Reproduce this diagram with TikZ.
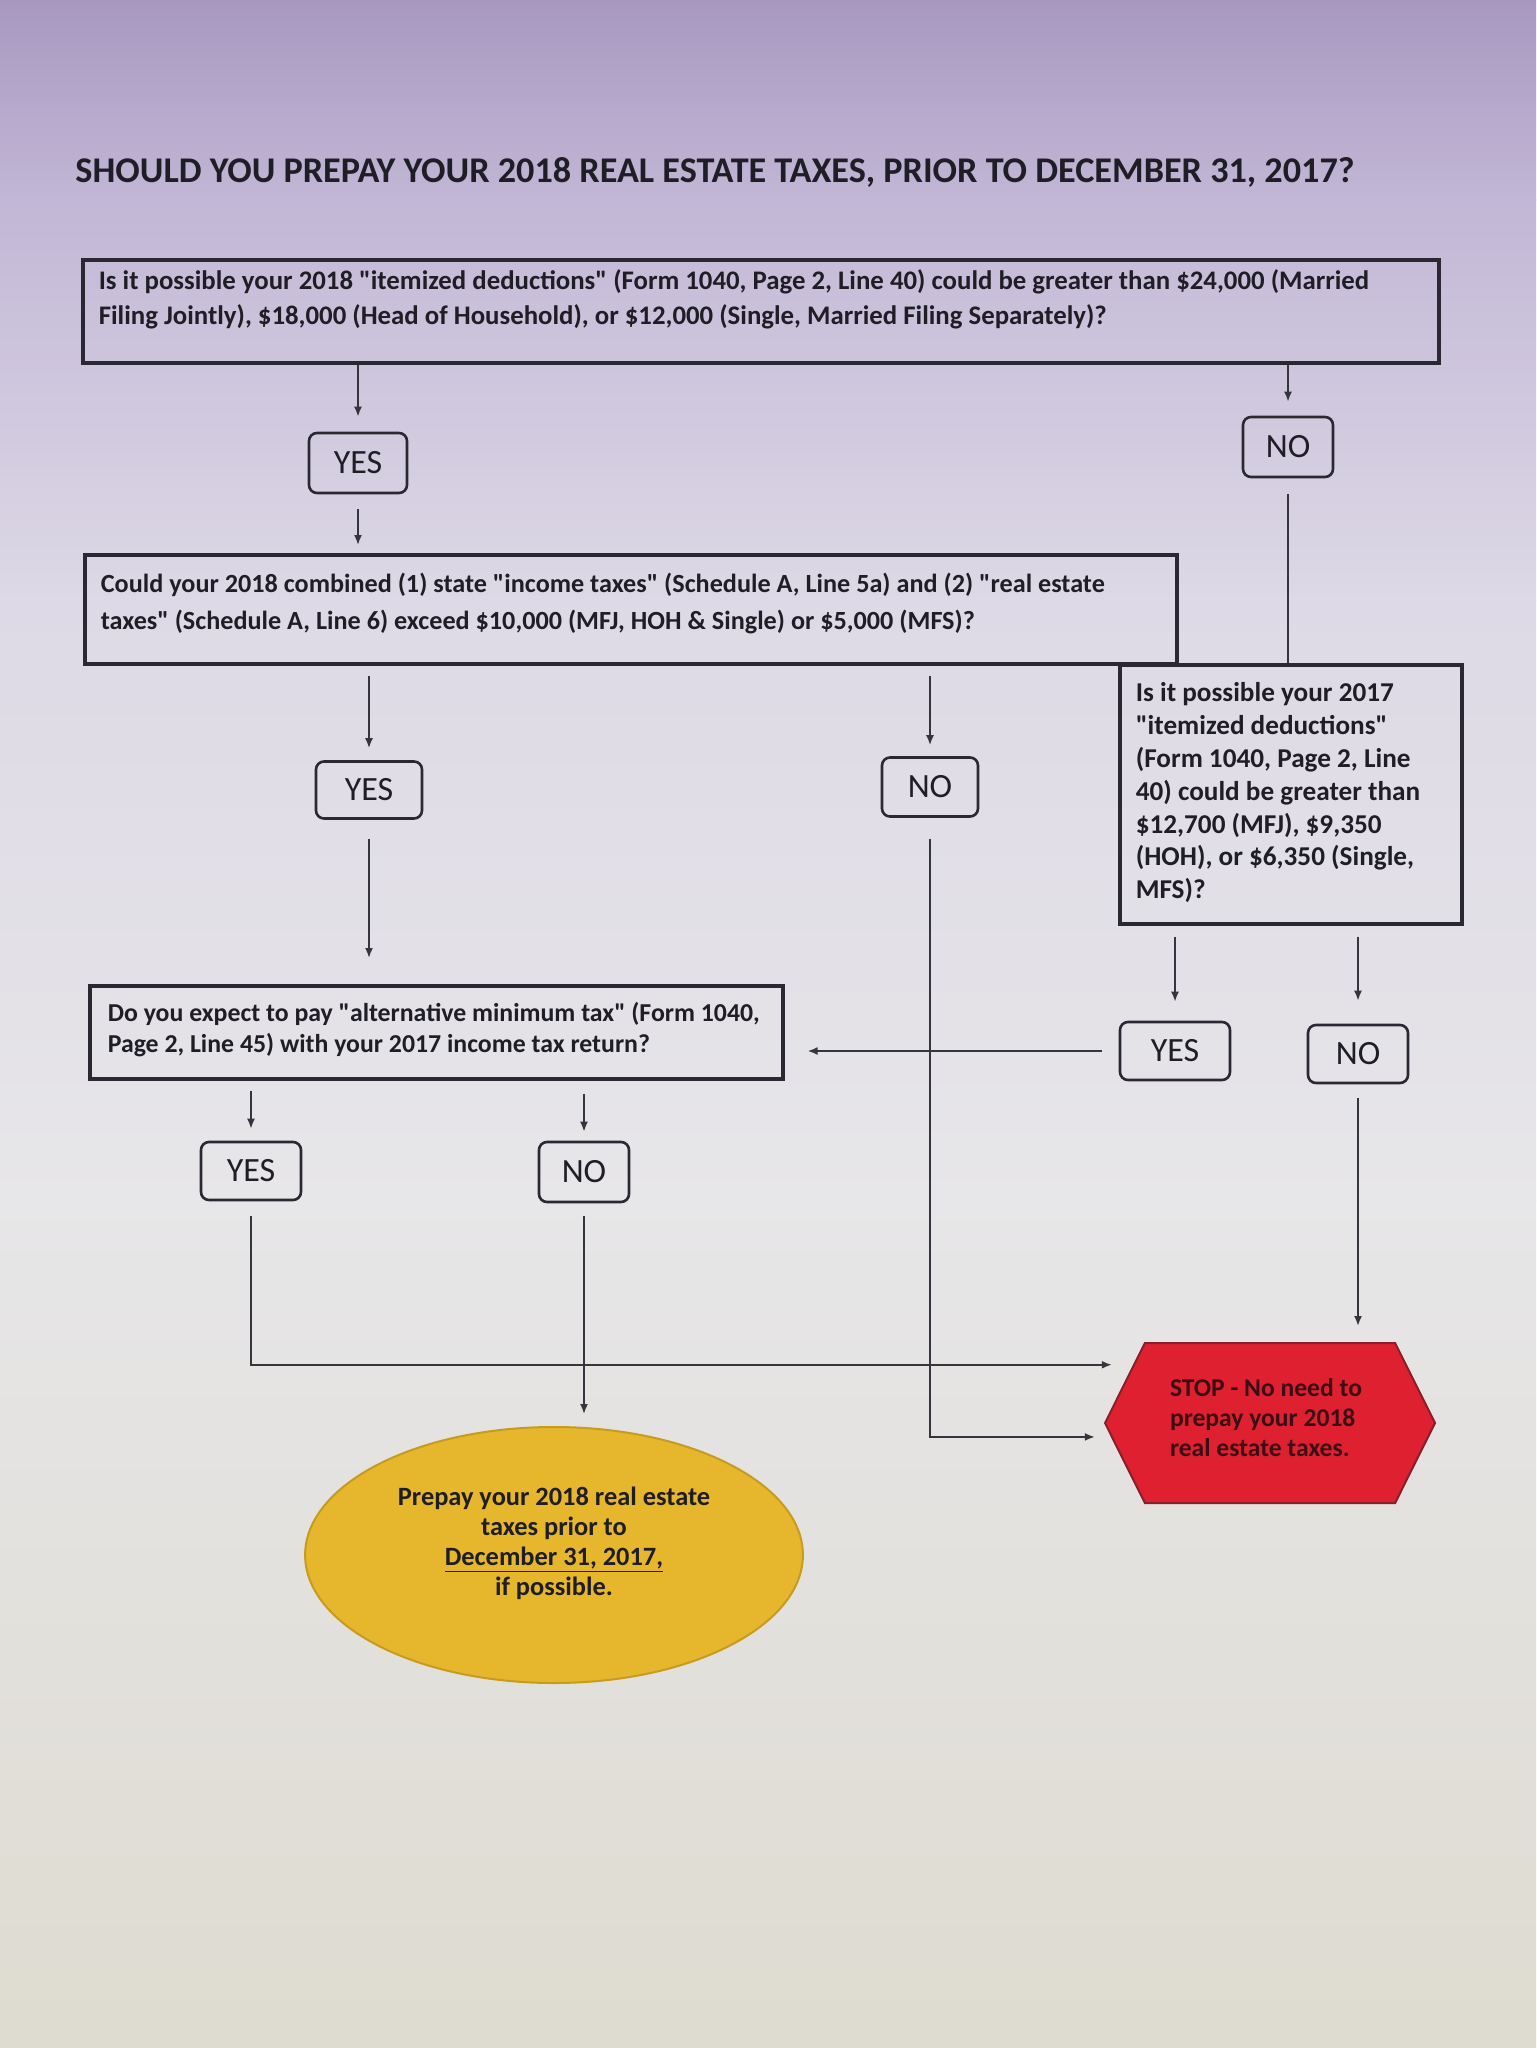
\documentclass[tikz,border=0pt]{standalone}
\usepackage{fontspec}
\setmainfont{Carlito}[Ligatures=TeXOff]
\usetikzlibrary{arrows.meta,shapes.symbols,shapes.geometric}
\definecolor{bg0}{HTML}{A898C0}
\definecolor{bg1}{HTML}{C2B7D6}
\definecolor{bg2}{HTML}{DDD9E6}
\definecolor{bg3}{HTML}{E7E6E8}
\definecolor{bg4}{HTML}{DEDBD0}
\definecolor{ink}{HTML}{1F1D26}
\definecolor{edgec}{HTML}{2A2832}
\definecolor{wirec}{HTML}{35353D}
\definecolor{gold}{HTML}{E6B62C}
\definecolor{goldedge}{HTML}{C79B1E}
\definecolor{stopred}{HTML}{DE2030}
\definecolor{stopedge}{HTML}{8A1E2A}
\definecolor{stopink}{HTML}{3A0E14}
\newcommand\qtext[4]{\parbox[c][#1][t]{#2}{\rule{0pt}{#3}#4}}
\begin{document}
\begin{tikzpicture}[x=0.5pt,y=-0.5pt,
  qbox/.style={draw=edgec, line width=1.8pt, anchor=north west, inner xsep=8pt, inner ysep=0pt, text=ink},
  ynbox/.style={draw=edgec, line width=1.3pt, rounded corners=4pt, inner sep=0pt, text=ink, font=\fontsize{17pt}{20pt}\selectfont},
  arr/.style={draw=wirec, line width=0.9pt, -{Latex[length=5pt,width=4pt]}},
  plainwire/.style={draw=wirec, line width=0.9pt}]
\useasboundingbox (0,0) rectangle (1536,2048);
\shade[top color=bg0, bottom color=bg1] (0,0) rectangle (1536,201);
\shade[top color=bg1, bottom color=bg2] (0,200) rectangle (1536,601);
\shade[top color=bg2, bottom color=bg3] (0,600) rectangle (1536,1201);
\shade[top color=bg3, bottom color=bg4] (0,1200) rectangle (1536,2048);

\node[font=\fontsize{18.1pt}{21pt}\selectfont\bfseries, text=ink] (title) at (715,172)
  {SHOULD YOU PREPAY YOUR 2018 REAL ESTATE TAXES, PRIOR TO DECEMBER 31, 2017?};

\node[qbox, font=\fontsize{13.4pt}{17.5pt}\selectfont\bfseries] (q1) at (81,258)
  {\qtext{51.5pt}{662pt}{15pt}{\mbox{Is it possible your 2018 "itemized deductions" (Form 1040, Page 2, Line 40) could be greater than \$24,000 (Married}\\\mbox{Filing Jointly), \$18,000 (Head of Household), or \$12,000 (Single, Married Filing Separately)?}}};

\node[qbox, font=\fontsize{13.1pt}{18.5pt}\selectfont\bfseries] (q2) at (83,553)
  {\qtext{54.5pt}{530pt}{19pt}{\mbox{Could your 2018 combined (1) state "income taxes" (Schedule A, Line 5a) and (2) "real estate}\\\mbox{taxes" (Schedule A, Line 6) exceed \$10,000 (MFJ, HOH \& Single) or \$5,000 (MFS)?}}};

\node[qbox, font=\fontsize{13.6pt}{16.4pt}\selectfont\bfseries] (q3) at (1118,663)
  {\qtext{129.5pt}{155pt}{18.5pt}{\mbox{Is it possible your 2017}\\\mbox{"itemized deductions"}\\\mbox{(Form 1040, Page 2, Line}\\\mbox{40) could be greater than}\\\mbox{\$12,700 (MFJ), \$9,350}\\\mbox{(HOH), or \$6,350 (Single,}\\\mbox{MFS)?}}};

\node[qbox, inner xsep=9pt, font=\fontsize{12.9pt}{15.5pt}\selectfont\bfseries] (q4) at (88,984)
  {\qtext{46.5pt}{328.5pt}{18pt}{\mbox{Do you expect to pay "alternative minimum tax" (Form 1040,}\\\mbox{Page 2, Line 45) with your 2017 income tax return?}}};

\node[ynbox, minimum width=49pt, minimum height=30pt] (yes1) at (358,463) {YES};
\node[ynbox, minimum width=45pt, minimum height=30pt] (no1) at (1288,447) {NO};
\node[ynbox, minimum width=53pt, minimum height=28.5pt] (yes2) at (369,790) {YES};
\node[ynbox, minimum width=48pt, minimum height=29.5pt] (no2) at (930,787) {NO};
\node[ynbox, minimum width=55pt, minimum height=29pt] (yes3) at (1175,1051) {YES};
\node[ynbox, minimum width=50pt, minimum height=29pt] (no3) at (1358,1054) {NO};
\node[ynbox, minimum width=50pt, minimum height=29pt] (yes4) at (251,1171) {YES};
\node[ynbox, minimum width=45pt, minimum height=30pt] (no4) at (584,1172) {NO};

\node[signal, signal to=east and west, signal pointer angle=127, fill=stopred, draw=stopedge,
  line width=1pt, minimum width=165pt, minimum height=80pt, inner sep=2pt, text=stopink,
  font=\fontsize{12.8pt}{15pt}\selectfont\bfseries] (stop) at (1270,1423)
  {\parbox{100pt}{\mbox{STOP - No need to}\\\mbox{prepay your 2018}\\\mbox{real estate taxes.}\par\vspace*{5pt}}};

\node[ellipse, fill=gold, draw=goldedge, line width=1pt, minimum width=245pt, minimum height=128pt,
  inner sep=0pt, text=ink, font=\fontsize{13.2pt}{15pt}\selectfont\bfseries] (prepay) at (554,1555)
  {\parbox{176pt}{\centering\mbox{Prepay your 2018 real estate}\\\mbox{taxes prior to}\\\mbox{\underline{December 31, 2017,}}\\\mbox{if possible.}\par\vspace*{12pt}}};

\draw[arr, shorten >=7.5pt] (yes1 |- q1.south) -- (yes1.north);
\draw[arr, shorten >=7pt] (no1 |- q1.south) -- (no1.north);
\draw[arr, shorten <=7.5pt, shorten >=4pt] (yes1.south) -- (yes1 |- q2.north);
\draw[plainwire, shorten <=8pt] (no1.south) -- (no1 |- q3.north);
\draw[arr, shorten <=5pt, shorten >=6pt] (yes2 |- q2.south) -- (yes2.north);
\draw[arr, shorten <=5pt, shorten >=5.5pt] (no2 |- q2.south) -- (no2.north);
\draw[arr, shorten <=9.5pt, shorten >=13pt] (yes2.south) -- (yes2 |- q4.north);
\draw[arr, shorten <=5.5pt, shorten >=9.5pt] (yes3 |- q3.south) -- (yes3.north);
\draw[arr, shorten <=5.5pt, shorten >=11.5pt] (no3 |- q3.south) -- (no3.north);
\draw[arr, shorten <=8.5pt, shorten >=11.5pt] (yes3.west) -- (yes3.west -| q4.east);
\draw[arr, shorten <=5pt, shorten >=6pt] (yes4 |- q4.south) -- (yes4.north);
\draw[arr, shorten <=6.5pt, shorten >=4.5pt] (no4 |- q4.south) -- (no4.north);
\draw[arr, shorten <=7.5pt, shorten >=10.5pt] (yes4.south) |- (stop.157);
\draw[arr, shorten <=10.5pt, shorten >=8pt] (no2.south) |- (stop.185);
\draw[arr, shorten <=6.5pt, shorten >=6pt] (no4.south) -- (no4 |- prepay.north);
\draw[arr, shorten <=7pt, shorten >=8pt] (no3.south) -- (no3 |- stop.north);
\end{tikzpicture}
\end{document}
